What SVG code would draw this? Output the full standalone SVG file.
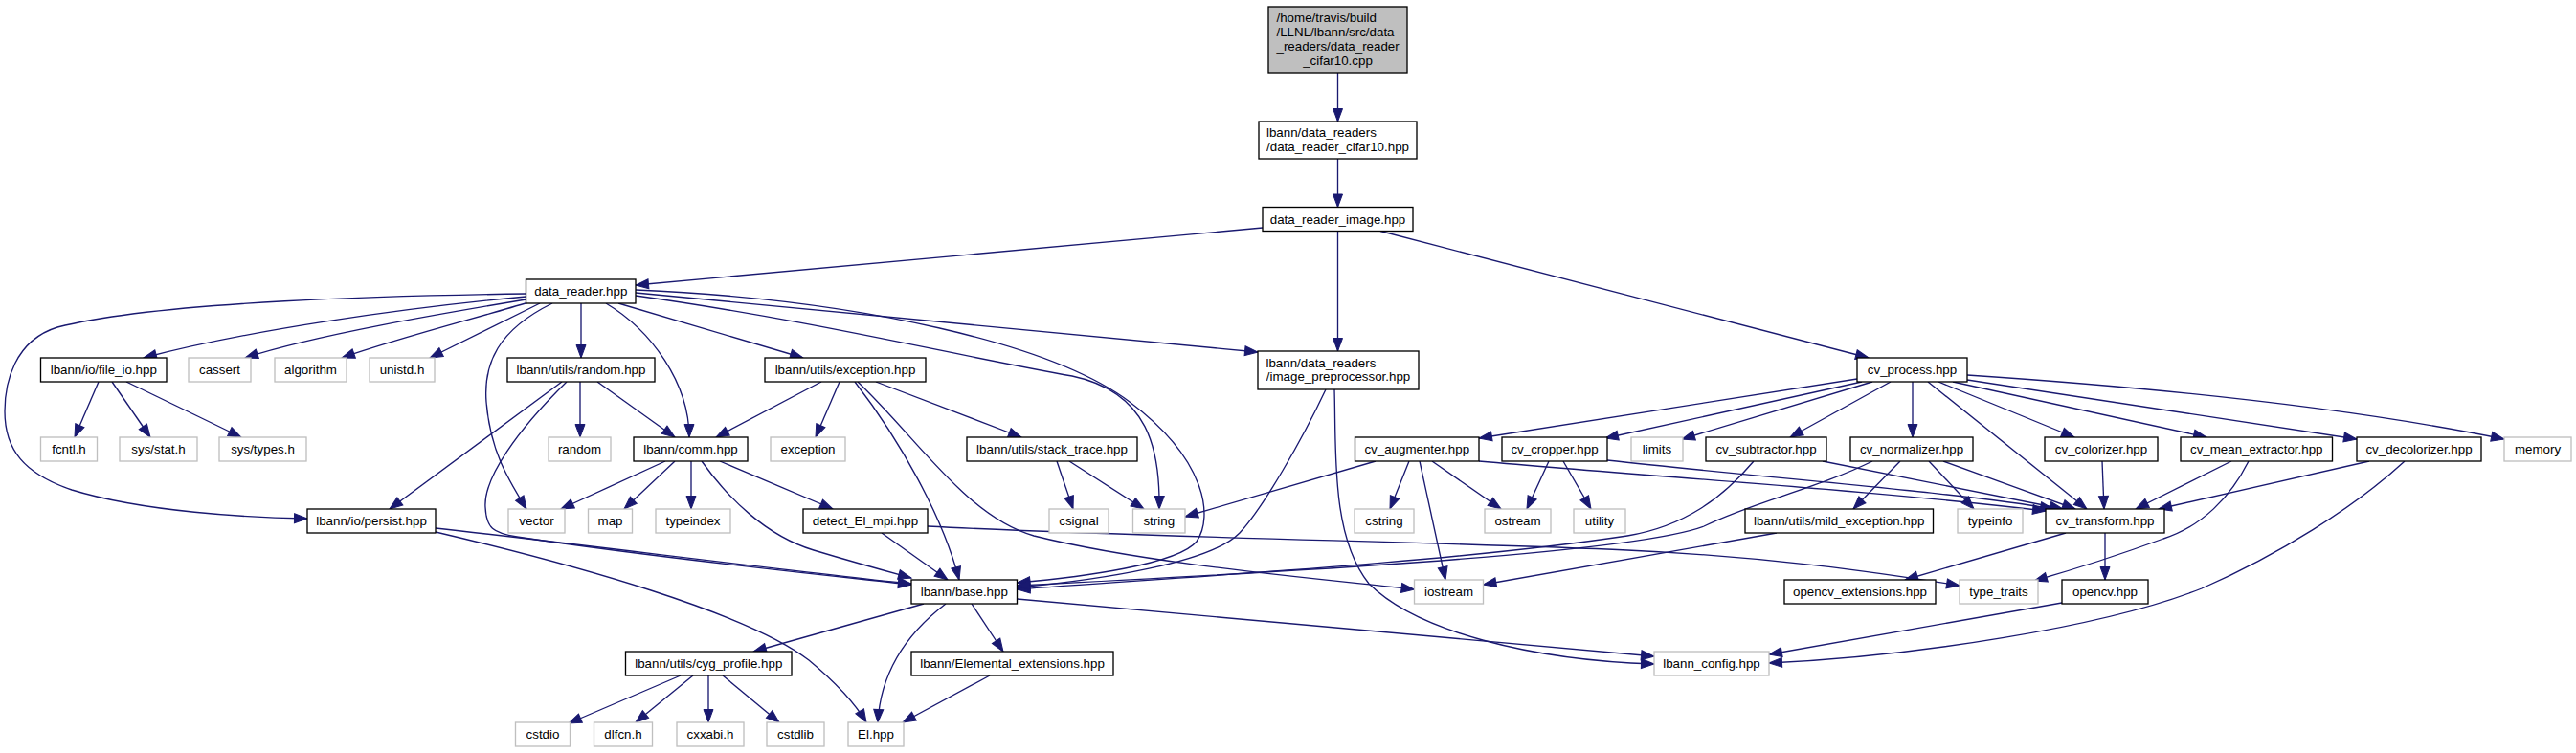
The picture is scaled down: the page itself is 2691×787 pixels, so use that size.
<svg xmlns="http://www.w3.org/2000/svg" width="2691" height="787" viewBox="0 0 2691 787">
<style>
.n rect{fill:#fff;stroke:#000;stroke-width:1.33}
.g rect{fill:#fff;stroke:#bfbfbf;stroke-width:1.33}
.r rect{fill:#bfbfbf;stroke:#000;stroke-width:1.33}
text{font-family:"Liberation Sans",Arial,Helvetica,sans-serif;font-size:13.33px;fill:#000}
.c{text-anchor:middle}
#edges path{fill:none;stroke:#191970;stroke-width:1.33;marker-end:url(#a)}
</style>
<defs>
<marker id="a" markerUnits="userSpaceOnUse" markerWidth="15" markerHeight="12" refX="13.5" refY="5" orient="auto" overflow="visible"><path d="M0,0L13.5,5L0,10z" fill="#191970" stroke="#191970" stroke-width="1"/></marker>
</defs>
<rect width="2691" height="787" fill="#fff"/>
<g id="edges">
<path d="M1397.5,76L1397.5,127"/>
<path d="M1397.5,166L1397.5,216.5"/>
<path d="M1319,238L664,298"/>
<path d="M1397.5,241.5L1397.5,367"/>
<path d="M1442,241.5L1952,374"/>
<path d="M549.5,307C420,309 170,314 60,342C15,356 5,400 5,430C5,470 25,495 75,512C150,535 260,541 321,542"/>
<path d="M549.5,310C420,322 260,345 150,374"/>
<path d="M549.5,313C460,328 330,350 256,374"/>
<path d="M552,316C500,332 420,352 357,374"/>
<path d="M564,317L449,374"/>
<path d="M607,317L607,374"/>
<path d="M577,317C520,345 505,380 508,420C512,470 530,500 550,532"/>
<path d="M633,317C680,345 720,400 720,457"/>
<path d="M646,317L839,374"/>
<path d="M664,306L1314,368"/>
<path d="M664,309C850,335 1000,372 1120,393C1200,410 1212,470 1211,532"/>
<path d="M664,303C900,313 1100,360 1180,420C1260,480 1268,540 1250,566C1230,590 1130,603 1062.5,609"/>
<path d="M606,399L606,457"/>
<path d="M624,399L705,457"/>
<path d="M587,399L407,532"/>
<path d="M592,399C540,450 505,500 507,530C508,552 515,557 540,561C700,585 880,603 952,611"/>
<path d="M103,399L78,457"/>
<path d="M117,399L157,457"/>
<path d="M132,399L252,457"/>
<path d="M858,399L748,457"/>
<path d="M877,399L852,457"/>
<path d="M915,399L1067,457"/>
<path d="M893,399C940,460 985,540 1002,606"/>
<path d="M896,399C960,460 1010,540 1080,560C1200,590 1380,605 1477.5,616"/>
<path d="M695,482L586,532"/>
<path d="M705,482L652,532"/>
<path d="M722,482L722,532"/>
<path d="M733,482C760,520 800,560 850,575C900,590 930,598 952,604"/>
<path d="M752,482L870,532"/>
<path d="M1104,482L1121,532"/>
<path d="M1117,482L1195,532"/>
<path d="M1385,407C1360,460 1320,530 1295,557C1265,588 1150,606 1062.5,614"/>
<path d="M1394,407C1396,470 1390,560 1430,610C1480,660 1600,690 1728,694"/>
<path d="M1940,396L1545,458"/>
<path d="M1945,399L1677,458"/>
<path d="M1956,399L1757,459"/>
<path d="M1975,399L1870,457"/>
<path d="M1998,399L1998,457"/>
<path d="M2014,399L2180,532"/>
<path d="M2025,399L2167,457"/>
<path d="M2040,399L2305,457"/>
<path d="M2055,397L2462,459"/>
<path d="M2055,392C2250,405 2450,425 2616,459"/>
<path d="M1437,482L1238,540"/>
<path d="M1472,482L1452,532"/>
<path d="M1483,482L1510,606"/>
<path d="M1496,482L1568,532"/>
<path d="M1545,482C1750,500 1950,512 2137,534"/>
<path d="M1618,482L1595,532"/>
<path d="M1633,482L1662,532"/>
<path d="M1679,481C1850,500 2050,515 2145,532"/>
<path d="M1832,482C1800,520 1760,550 1700,560C1500,590 1200,605 1062.5,616"/>
<path d="M1904,482L2155,532"/>
<path d="M1956,482C1900,510 1830,525 1780,550C1700,580 1300,600 1062.5,612"/>
<path d="M1985,482L1936,532"/>
<path d="M2015,482L2062,532"/>
<path d="M2030,482L2168,532"/>
<path d="M2196,482L2198,532"/>
<path d="M2331,482L2231,532"/>
<path d="M2349,482C2330,520 2300,550 2260,563C2200,585 2160,597 2125,607"/>
<path d="M2475,482L2255,532"/>
<path d="M2512,482C2460,530 2380,580 2300,615C2200,655 2000,686 1848,693"/>
<path d="M1856,557L1549.5,611"/>
<path d="M921,557L990,606"/>
<path d="M969,550C1200,562 1500,566 1700,575C1850,582 1960,598 2047,612"/>
<path d="M2158,557L1990,606"/>
<path d="M2199,557L2199,606"/>
<path d="M455,552C600,568 850,600 952,610"/>
<path d="M455,556C600,590 780,640 845,690C875,715 895,738 905,755"/>
<path d="M1062.5,626L1728,686"/>
<path d="M965,631L787,681"/>
<path d="M1015,631L1048,681"/>
<path d="M988,631C950,660 920,700 917,755"/>
<path d="M2154,630L1848,684"/>
<path d="M711,706L594,756"/>
<path d="M724,706L664,755"/>
<path d="M740,706L740,755"/>
<path d="M755,706L814,755"/>
<path d="M1034,706L943,755"/>
</g>
<g id="root" class="r"><rect x="1325" y="7" width="145" height="69"/><text x="1333.5" y="23">/home/travis/build</text><text x="1333.5" y="38">/LLNL/lbann/src/data</text><text x="1333.5" y="53">_readers/data_reader</text><text class="c" x="1397.5" y="68">_cifar10.cpp</text></g>
<g id="n_cifar10" class="n"><rect x="1315" y="127" width="165" height="39"/><text x="1323" y="143">lbann/data_readers</text><text class="c" x="1397.5" y="158">/data_reader_cifar10.hpp</text></g>
<g id="n_image" class="n"><rect x="1319" y="216.5" width="157" height="25"/><text class="c" x="1397.5" y="233.5">data_reader_image.hpp</text></g>
<g id="n_data_reader" class="n"><rect x="549.5" y="292" width="114.5" height="25"/><text class="c" x="606.75" y="309">data_reader.hpp</text></g>
<g id="n_file_io" class="n"><rect x="42.5" y="374" width="131.5" height="25"/><text class="c" x="108.25" y="391">lbann/io/file_io.hpp</text></g>
<g id="n_cassert" class="g"><rect x="197" y="374" width="65" height="25"/><text class="c" x="229.5" y="391">cassert</text></g>
<g id="n_algorithm" class="g"><rect x="287" y="374" width="75" height="25"/><text class="c" x="324.5" y="391">algorithm</text></g>
<g id="n_unistd" class="g"><rect x="386" y="374" width="68" height="25"/><text class="c" x="420" y="391">unistd.h</text></g>
<g id="n_random_hpp" class="n"><rect x="530" y="374" width="154" height="25"/><text class="c" x="607" y="391">lbann/utils/random.hpp</text></g>
<g id="n_exception_hpp" class="n"><rect x="799" y="374" width="168" height="25"/><text class="c" x="883" y="391">lbann/utils/exception.hpp</text></g>
<g id="n_image_pre" class="n"><rect x="1314" y="367" width="168" height="40"/><text x="1322.5" y="383.5">lbann/data_readers</text><text class="c" x="1398" y="398">/image_preprocessor.hpp</text></g>
<g id="n_cv_process" class="n"><rect x="1940" y="374" width="115" height="25"/><text class="c" x="1997.5" y="391">cv_process.hpp</text></g>
<g id="n_fcntl" class="g"><rect x="42.5" y="457" width="59" height="25"/><text class="c" x="72" y="474">fcntl.h</text></g>
<g id="n_stat" class="g"><rect x="125" y="457" width="81" height="25"/><text class="c" x="165.5" y="474">sys/stat.h</text></g>
<g id="n_types" class="g"><rect x="229" y="457" width="91" height="25"/><text class="c" x="274.5" y="474">sys/types.h</text></g>
<g id="n_random" class="g"><rect x="573" y="457" width="65" height="25"/><text class="c" x="605.5" y="474">random</text></g>
<g id="n_comm" class="n"><rect x="662" y="457" width="119" height="25"/><text class="c" x="721.5" y="474">lbann/comm.hpp</text></g>
<g id="n_exception" class="g"><rect x="805" y="457" width="78" height="25"/><text class="c" x="844" y="474">exception</text></g>
<g id="n_stack_trace" class="n"><rect x="1010" y="457" width="178" height="25"/><text class="c" x="1099" y="474">lbann/utils/stack_trace.hpp</text></g>
<g id="n_augmenter" class="n"><rect x="1415.5" y="457" width="129.5" height="25"/><text class="c" x="1480.25" y="474">cv_augmenter.hpp</text></g>
<g id="n_cropper" class="n"><rect x="1569" y="457" width="110" height="25"/><text class="c" x="1624" y="474">cv_cropper.hpp</text></g>
<g id="n_limits" class="g"><rect x="1704" y="457" width="54" height="25"/><text class="c" x="1731" y="474">limits</text></g>
<g id="n_subtractor" class="n"><rect x="1782" y="457" width="126" height="25"/><text class="c" x="1845" y="474">cv_subtractor.hpp</text></g>
<g id="n_normalizer" class="n"><rect x="1933" y="457" width="128" height="25"/><text class="c" x="1997" y="474">cv_normalizer.hpp</text></g>
<g id="n_colorizer" class="n"><rect x="2136" y="457" width="118" height="25"/><text class="c" x="2195" y="474">cv_colorizer.hpp</text></g>
<g id="n_mean" class="n"><rect x="2278" y="457" width="158.5" height="25"/><text class="c" x="2357.25" y="474">cv_mean_extractor.hpp</text></g>
<g id="n_decolorizer" class="n"><rect x="2462" y="457" width="130" height="25"/><text class="c" x="2527" y="474">cv_decolorizer.hpp</text></g>
<g id="n_memory" class="g"><rect x="2616" y="457" width="70" height="25"/><text class="c" x="2651" y="474">memory</text></g>
<g id="n_persist" class="n"><rect x="321" y="532" width="134" height="25"/><text class="c" x="388" y="549">lbann/io/persist.hpp</text></g>
<g id="n_vector" class="g"><rect x="531" y="532" width="59" height="25"/><text class="c" x="560.5" y="549">vector</text></g>
<g id="n_map" class="g"><rect x="614.5" y="532" width="46" height="25"/><text class="c" x="637.5" y="549">map</text></g>
<g id="n_typeindex" class="g"><rect x="685" y="532" width="78" height="25"/><text class="c" x="724" y="549">typeindex</text></g>
<g id="n_detect" class="n"><rect x="839" y="532" width="130" height="25"/><text class="c" x="904" y="549">detect_El_mpi.hpp</text></g>
<g id="n_csignal" class="g"><rect x="1096" y="532" width="62" height="25"/><text class="c" x="1127" y="549">csignal</text></g>
<g id="n_string" class="g"><rect x="1183.5" y="532" width="54.5" height="25"/><text class="c" x="1210.75" y="549">string</text></g>
<g id="n_cstring" class="g"><rect x="1415" y="532" width="62" height="25"/><text class="c" x="1446" y="549">cstring</text></g>
<g id="n_ostream" class="g"><rect x="1551" y="532" width="69" height="25"/><text class="c" x="1585.5" y="549">ostream</text></g>
<g id="n_utility" class="g"><rect x="1644" y="532" width="54" height="25"/><text class="c" x="1671" y="549">utility</text></g>
<g id="n_mild" class="n"><rect x="1823" y="532" width="196.5" height="25"/><text class="c" x="1921.25" y="549">lbann/utils/mild_exception.hpp</text></g>
<g id="n_typeinfo" class="g"><rect x="2045" y="532" width="68" height="25"/><text class="c" x="2079" y="549">typeinfo</text></g>
<g id="n_cv_transform" class="n"><rect x="2137" y="532" width="124" height="25"/><text class="c" x="2199" y="549">cv_transform.hpp</text></g>
<g id="n_base" class="n"><rect x="952" y="606" width="110.5" height="25"/><text class="c" x="1007.25" y="623">lbann/base.hpp</text></g>
<g id="n_iostream" class="g"><rect x="1477.5" y="606" width="72" height="25"/><text class="c" x="1513.5" y="623">iostream</text></g>
<g id="n_opencv_ext" class="n"><rect x="1864" y="606" width="158" height="25"/><text class="c" x="1943" y="623">opencv_extensions.hpp</text></g>
<g id="n_type_traits" class="g"><rect x="2047" y="606" width="82" height="25"/><text class="c" x="2088" y="623">type_traits</text></g>
<g id="n_opencv" class="n"><rect x="2154" y="606" width="90" height="25"/><text class="c" x="2199" y="623">opencv.hpp</text></g>
<g id="n_cyg" class="n"><rect x="653.5" y="681" width="173.5" height="25"/><text class="c" x="740.25" y="698">lbann/utils/cyg_profile.hpp</text></g>
<g id="n_elemental" class="n"><rect x="952" y="681" width="211" height="25"/><text class="c" x="1057.5" y="698">lbann/Elemental_extensions.hpp</text></g>
<g id="n_config" class="g"><rect x="1728" y="681" width="120" height="25"/><text class="c" x="1788" y="698">lbann_config.hpp</text></g>
<g id="n_cstdio" class="g"><rect x="538.5" y="755" width="57" height="25"/><text class="c" x="567" y="772">cstdio</text></g>
<g id="n_dlfcn" class="g"><rect x="620.5" y="755" width="61" height="25"/><text class="c" x="651" y="772">dlfcn.h</text></g>
<g id="n_cxxabi" class="g"><rect x="707" y="755" width="70" height="25"/><text class="c" x="742" y="772">cxxabi.h</text></g>
<g id="n_cstdlib" class="g"><rect x="801" y="755" width="60" height="25"/><text class="c" x="831" y="772">cstdlib</text></g>
<g id="n_el" class="g"><rect x="886" y="755" width="58" height="25"/><text class="c" x="915" y="772">El.hpp</text></g>
</svg>
